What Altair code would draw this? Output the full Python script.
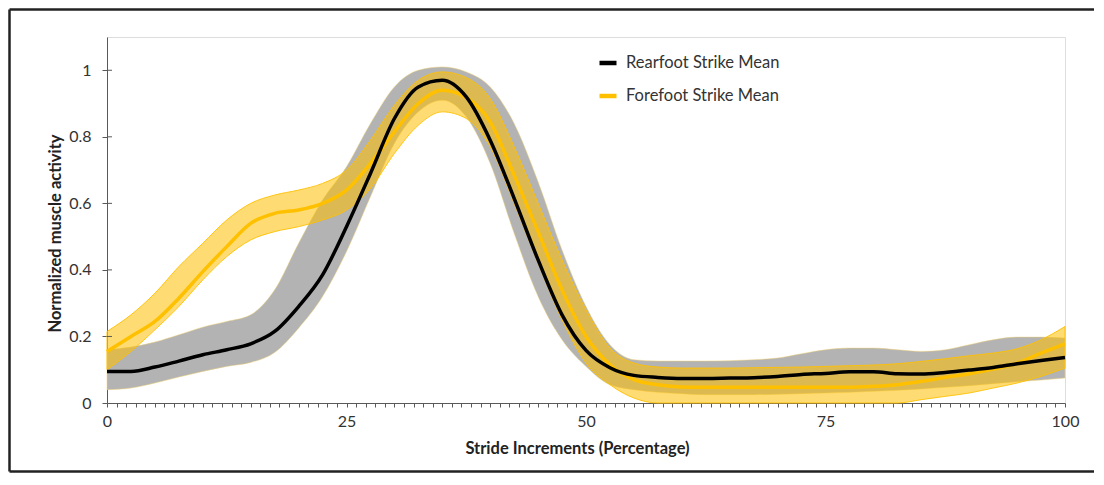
import altair as alt
import pandas as pd

# ---- data ----
stride = [0, 2.5, 5, 7.5, 10, 12.5, 15, 17.5, 20, 22.5, 25, 27.5, 30, 32.5, 35, 37.5,
          40, 42.5, 45, 47.5, 50, 52.5, 55, 57.5, 60, 62.5, 65, 67.5, 70, 72.5, 75,
          77.5, 80, 82.5, 85, 87.5, 90, 92.5, 95, 97.5, 100]

rear_mean = [0.095, 0.095, 0.108, 0.126, 0.145, 0.160, 0.178, 0.215, 0.29, 0.385, 0.53,
             0.69, 0.855, 0.95, 0.97, 0.92, 0.79, 0.615, 0.43, 0.265, 0.158, 0.106, 0.083,
             0.077, 0.074, 0.074, 0.075, 0.076, 0.080, 0.086, 0.089, 0.094, 0.094, 0.088,
             0.087, 0.092, 0.099, 0.107, 0.118, 0.128, 0.137]
rear_upper = [0.16, 0.168, 0.183, 0.205, 0.228, 0.245, 0.265, 0.34, 0.48, 0.61, 0.71,
              0.84, 0.95, 1.00, 1.01, 0.995, 0.95, 0.84, 0.665, 0.46, 0.29, 0.175, 0.13,
              0.126, 0.126, 0.126, 0.127, 0.13, 0.135, 0.148, 0.16, 0.165, 0.165, 0.16,
              0.155, 0.16, 0.175, 0.19, 0.198, 0.198, 0.195]
rear_lower = [0.04, 0.045, 0.06, 0.078, 0.095, 0.11, 0.122, 0.152, 0.225, 0.32, 0.455,
              0.62, 0.78, 0.875, 0.91, 0.86, 0.72, 0.51, 0.32, 0.19, 0.11, 0.055, 0.04,
              0.032, 0.028, 0.025, 0.025, 0.025, 0.026, 0.028, 0.03, 0.032, 0.035, 0.038,
              0.042, 0.047, 0.052, 0.058, 0.064, 0.069, 0.075]

fore_mean = [0.155, 0.20, 0.245, 0.315, 0.395, 0.47, 0.54, 0.57, 0.58, 0.60, 0.64,
             0.72, 0.815, 0.90, 0.94, 0.918, 0.845, 0.685, 0.515, 0.34, 0.20, 0.115, 0.07,
             0.055, 0.048, 0.047, 0.047, 0.047, 0.047, 0.047, 0.047, 0.047, 0.05, 0.055,
             0.065, 0.077, 0.088, 0.102, 0.12, 0.15, 0.178]
fore_upper = [0.215, 0.265, 0.33, 0.41, 0.48, 0.55, 0.60, 0.625, 0.64, 0.66, 0.70,
              0.79, 0.895, 0.97, 0.995, 0.978, 0.915, 0.77, 0.60, 0.43, 0.28, 0.165, 0.12,
              0.108, 0.105, 0.105, 0.105, 0.106, 0.107, 0.108, 0.11, 0.112, 0.114, 0.118,
              0.125, 0.133, 0.142, 0.15, 0.163, 0.19, 0.23]
fore_lower = [0.10, 0.155, 0.22, 0.29, 0.37, 0.44, 0.49, 0.515, 0.53, 0.55, 0.58,
              0.645, 0.75, 0.835, 0.875, 0.855, 0.77, 0.60, 0.42, 0.25, 0.12, 0.055, 0.015,
              0.0, 0.0, 0.0, 0.0, 0.0, 0.0, 0.0, 0.0, 0.0, 0.0, 0.0,
              0.01, 0.02, 0.03, 0.045, 0.06, 0.08, 0.105]

series_names = ["Rearfoot Strike Mean", "Forefoot Strike Mean"]
series_colors = ["#000000", "#ffc000"]
y_tick_values = [0, 0.2, 0.4, 0.6, 0.8, 1]
y_inner_ticks = [0.2, 0.4, 0.6, 0.8, 1]
x_tick_values = list(range(0, 101))

df = pd.DataFrame({
    "x": stride,
    "r_mean": rear_mean, "r_up": rear_upper, "r_lo": rear_lower,
    "f_mean": fore_mean, "f_up": fore_upper, "f_lo": fore_lower,
})

W, H = 958, 366
PAD_L, PAD_T, PAD_R, PAD_B = 99, 29, 31, 70
TOTAL_W = PAD_L + W + PAD_R
TOTAL_H = PAD_T + H + PAD_B
FONT = "Lato"
AXIS_COL = "#595959"
X_TITLE = "Stride Increments (Percentage)"
Y_TITLE = "Normalized muscle activity"

xscale = alt.Scale(domain=[0, 100], nice=False, zero=False)
yscale = alt.Scale(domain=[0, 1.1], nice=False, zero=True)

xaxis = alt.Axis(
    values=x_tick_values,
    labelExpr="datum.value % 25 === 0 ? datum.label : ''",
    labelFlush=False, labelOverlap=False, grid=False,
    domainColor=AXIS_COL, tickColor=AXIS_COL, tickSize=4, tickWidth=1,
    labelFont=FONT, labelFontSize=16, labelColor="#333333", labelPadding=6,
    titleFont=FONT, titleFontSize=16.5, titleFontWeight="bold", titleColor="#222222",
    titleX=470, titleY=45, titleAlign="center", titleBaseline="middle",
)
yaxis = alt.Axis(
    values=y_tick_values, format="~g", grid=False,
    domainColor=AXIS_COL, tickColor=AXIS_COL, tickSize=5, tickWidth=1,
    labelFont=FONT, labelFontSize=16, labelColor="#333333", labelPadding=11,
    titleFont=FONT, titleFontSize=16.5, titleFontWeight="bold", titleColor="#222222",
    titleX=-52, titleY=196, titleAngle=-90, titleAlign="center", titleBaseline="middle",
)


def X():
    return alt.X("x:Q", scale=xscale, axis=xaxis, title=X_TITLE)


def Y(field):
    return alt.Y(field, type="quantitative", scale=yscale, axis=yaxis, title=Y_TITLE)


cscale = alt.Scale(domain=series_names, range=series_colors)
legend = alt.Legend(
    orient="none", legendX=490, legendY=15, title=None, padding=0,
    symbolType="stroke", symbolStrokeWidth=4.5, symbolSize=289,
    labelFont=FONT, labelFontSize=16.5, labelColor="#333333", labelOffset=7,
    rowPadding=13,
)

base = alt.Chart(df)

rear_band = base.mark_area(
    fill="#b3b3b3", fillOpacity=1, interpolate="monotone",
    stroke="#f0d070", strokeWidth=0.6, strokeOpacity=0.8,
).encode(x=X(), y=Y("r_up"), y2=alt.Y2("r_lo"))

fore_band = base.mark_area(
    fill="#ffc000", fillOpacity=0.55, interpolate="monotone",
    stroke="#ffc000", strokeWidth=1, strokeOpacity=0.9,
).encode(x=X(), y=Y("f_up"), y2=alt.Y2("f_lo"))

rear_line = base.transform_calculate(series="'Rearfoot Strike Mean'").mark_line(
    strokeWidth=3.5, interpolate="monotone",
).encode(x=X(), y=Y("r_mean"), color=alt.Color("series:N", scale=cscale, legend=legend))

fore_line = base.transform_calculate(series="'Forefoot Strike Mean'").mark_line(
    strokeWidth=3.5, interpolate="monotone",
).encode(x=X(), y=Y("f_mean"), color=alt.Color("series:N", scale=cscale, legend=legend))

inner_ticks = alt.Chart(pd.DataFrame({"tick": y_inner_ticks})).mark_rule(
    color=AXIS_COL, strokeWidth=1,
).encode(y=Y("tick"), x=alt.value(0), x2=alt.value(5))

# decorative frame (top, left, bottom) around the figure
frame_df = pd.DataFrame({"k": [0]})
f_left = -PAD_L + 1.5
f_right = TOTAL_W - PAD_L - 2
f_top = -PAD_T + 1.5
f_bottom = TOTAL_H - PAD_T - 1.5
frame_top = alt.Chart(frame_df).mark_rule(color="#222222", strokeWidth=2.5).encode(
    x=alt.value(f_left), x2=alt.value(f_right), y=alt.value(f_top))
frame_left = alt.Chart(frame_df).mark_rule(color="#222222", strokeWidth=2.5).encode(
    x=alt.value(f_left), y=alt.value(f_top), y2=alt.value(f_bottom))
frame_bottom = alt.Chart(frame_df).mark_rule(color="#222222", strokeWidth=2.5).encode(
    x=alt.value(f_left), x2=alt.value(f_right), y=alt.value(f_bottom))

chart = alt.layer(
    rear_band, fore_band, fore_line, rear_line, inner_ticks,
    frame_top, frame_left, frame_bottom,
).properties(
    width=W, height=H,
    autosize=alt.AutoSizeParams(type="none"),
    padding={"left": PAD_L, "top": PAD_T, "right": PAD_R, "bottom": PAD_B},
).configure_view(stroke=None).configure(font=FONT, background="white")

chart.save("out.html", embed_options={"renderer": "svg", "actions": False})
